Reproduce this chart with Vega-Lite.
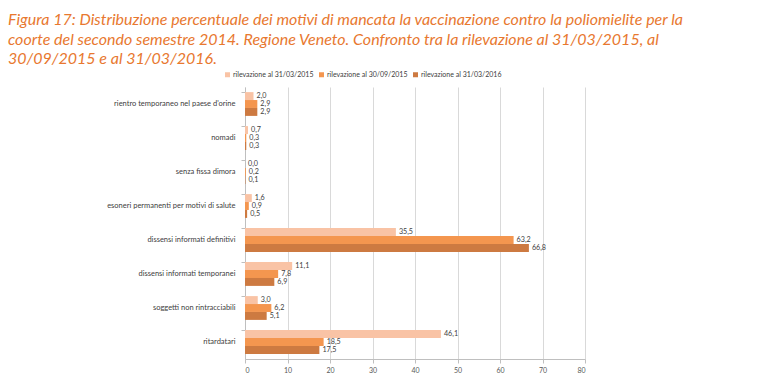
{
  "$schema": "https://vega.github.io/schema/vega-lite/v6.json",
  "width": 340,
  "height": 272,
  "autosize": {"type": "none"},
  "padding": {"left": 245, "top": 87, "right": 175, "bottom": 22},
  "background": "white",
  "config": {
    "font": "Lato",
    "view": {"stroke": null},
    "locale": {"number": {"decimal": ",", "thousands": ".", "grouping": [3], "currency": ["", " €"]}}
  },
  "title": {
    "text": ["Figura 17: Distribuzione percentuale dei motivi di mancata la vaccinazione contro la poliomielite per la", "coorte del secondo semestre 2014. Regione Veneto. Confronto tra la rilevazione al 31/03/2015, al", "30/09/2015 e al 31/03/2016."],
    "anchor": "start",
    "frame": "group",
    "orient": "top",
    "dx": -237,
    "dy": -4,
    "fontSize": 16,
    "fontStyle": "italic",
    "fontWeight": "normal",
    "font": "Lato",
    "color": "#E8782F",
    "lineHeight": 19.5,
    "offset": 0
  },
  "data": {
    "values": [
      {"motivo": "rientro temporaneo nel paese d'orine", "serie": "rilevazione al 31/03/2015", "valore": 2.0},
      {"motivo": "rientro temporaneo nel paese d'orine", "serie": "rilevazione al 30/09/2015", "valore": 2.9},
      {"motivo": "rientro temporaneo nel paese d'orine", "serie": "rilevazione al 31/03/2016", "valore": 2.9},
      {"motivo": "nomadi", "serie": "rilevazione al 31/03/2015", "valore": 0.7},
      {"motivo": "nomadi", "serie": "rilevazione al 30/09/2015", "valore": 0.3},
      {"motivo": "nomadi", "serie": "rilevazione al 31/03/2016", "valore": 0.3},
      {"motivo": "senza fissa dimora", "serie": "rilevazione al 31/03/2015", "valore": 0.0},
      {"motivo": "senza fissa dimora", "serie": "rilevazione al 30/09/2015", "valore": 0.2},
      {"motivo": "senza fissa dimora", "serie": "rilevazione al 31/03/2016", "valore": 0.1},
      {"motivo": "esoneri permanenti per motivi di salute", "serie": "rilevazione al 31/03/2015", "valore": 1.6},
      {"motivo": "esoneri permanenti per motivi di salute", "serie": "rilevazione al 30/09/2015", "valore": 0.9},
      {"motivo": "esoneri permanenti per motivi di salute", "serie": "rilevazione al 31/03/2016", "valore": 0.5},
      {"motivo": "dissensi informati definitivi", "serie": "rilevazione al 31/03/2015", "valore": 35.5},
      {"motivo": "dissensi informati definitivi", "serie": "rilevazione al 30/09/2015", "valore": 63.2},
      {"motivo": "dissensi informati definitivi", "serie": "rilevazione al 31/03/2016", "valore": 66.8},
      {"motivo": "dissensi informati temporanei", "serie": "rilevazione al 31/03/2015", "valore": 11.1},
      {"motivo": "dissensi informati temporanei", "serie": "rilevazione al 30/09/2015", "valore": 7.8},
      {"motivo": "dissensi informati temporanei", "serie": "rilevazione al 31/03/2016", "valore": 6.9},
      {"motivo": "soggetti non rintracciabili", "serie": "rilevazione al 31/03/2015", "valore": 3.0},
      {"motivo": "soggetti non rintracciabili", "serie": "rilevazione al 30/09/2015", "valore": 6.2},
      {"motivo": "soggetti non rintracciabili", "serie": "rilevazione al 31/03/2016", "valore": 5.1},
      {"motivo": "ritardatari", "serie": "rilevazione al 31/03/2015", "valore": 46.1},
      {"motivo": "ritardatari", "serie": "rilevazione al 30/09/2015", "valore": 18.5},
      {"motivo": "ritardatari", "serie": "rilevazione al 31/03/2016", "valore": 17.5}
    ]
  },
  "encoding": {
    "y": {
      "field": "motivo",
      "type": "nominal",
      "sort": null,
      "scale": {"paddingInner": 0.3, "paddingOuter": 0.15},
      "axis": {
        "title": null,
        "labelFontSize": 7.5,
        "labelColor": "#404040",
        "labelPadding": 6,
        "domainColor": "#BFBFBF",
        "tickColor": "#BFBFBF",
        "tickSize": 4,
        "bandPosition": 0,
        "labelBound": false
      }
    },
    "yOffset": {
      "field": "serie",
      "type": "nominal",
      "sort": ["rilevazione al 31/03/2015", "rilevazione al 30/09/2015", "rilevazione al 31/03/2016"],
      "scale": {"paddingInner": 0, "paddingOuter": 0}
    },
    "x": {
      "field": "valore",
      "type": "quantitative",
      "scale": {"domain": [0, 80], "nice": false},
      "axis": {
        "title": null,
        "values": [0, 10, 20, 30, 40, 50, 60, 70, 80],
        "labelFontSize": 7,
        "labelColor": "#595959",
        "gridColor": "#D9D9D9",
        "domainColor": "#BFBFBF",
        "tickColor": "#BFBFBF",
        "tickSize": 4,
        "labelPadding": 3
      }
    }
  },
  "layer": [
    {
      "mark": {"type": "bar"},
      "encoding": {
        "color": {
          "field": "serie",
          "type": "nominal",
          "sort": ["rilevazione al 31/03/2015", "rilevazione al 30/09/2015", "rilevazione al 31/03/2016"],
          "scale": {"domain": ["rilevazione al 31/03/2015", "rilevazione al 30/09/2015", "rilevazione al 31/03/2016"], "range": ["#F9C3A5", "#F4964F", "#CD7A41"]},
          "legend": {
            "title": null,
            "orient": "none",
            "direction": "horizontal",
            "legendX": -21,
            "legendY": -16,
            "symbolType": "square",
            "symbolSize": 25,
            "symbolStrokeWidth": 0,
            "labelFontSize": 7,
            "labelColor": "#404040",
            "labelOffset": 2,
            "columnPadding": 4
          }
        }
      }
    },
    {
      "mark": {"type": "text", "align": "left", "dx": 3, "fontSize": 7.2, "color": "#404040", "baseline": "middle"},
      "encoding": {
        "text": {"field": "valore", "type": "quantitative", "format": ".1f"}
      }
    }
  ]
}
